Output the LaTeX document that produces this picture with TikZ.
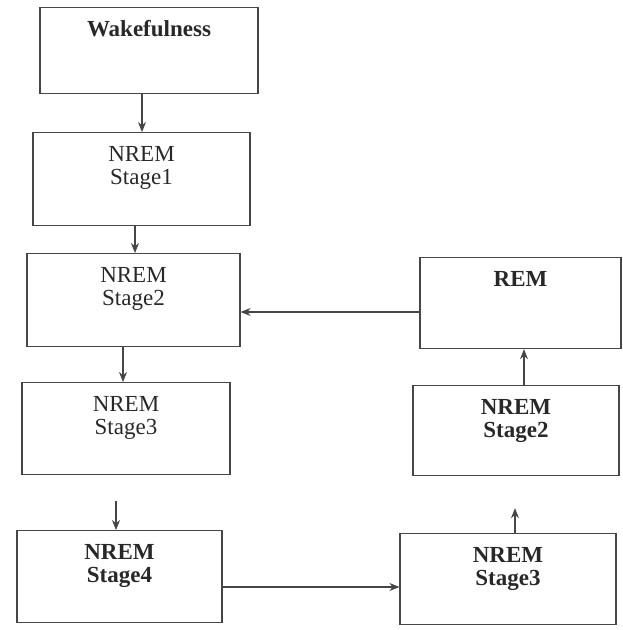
\documentclass[tikz,border=0pt]{standalone}
\usepackage{fontspec}
\setmainfont{Liberation Serif}
\usetikzlibrary{arrows.meta, positioning, calc}
\definecolor{cLine}{RGB}{70,70,70}
\definecolor{cText}{RGB}{40,40,40}
\tikzset{
	stage/.style ={rectangle, draw=cLine, line width=1.2pt, anchor=north, align=center, text=cText,
		font=\fontsize{23}{23}\selectfont\bfseries, text height=16pt, text depth=51pt, inner xsep=0pt, inner ysep=13pt},
	twoline/.style={text height=39pt, text depth=28pt},
	light/.style ={font=\fontsize{23}{23}\selectfont},
	flow/.style  ={-{Stealth[length=10pt, width=8pt]}, draw=cLine, line width=1.1pt},
}
\begin{document}
\begin{tikzpicture}[x=1pt, y=-1pt]
	\useasboundingbox (0,0) rectangle (623,630);
	% left column
	\node[stage, minimum width=218pt, text depth=44pt] (wake) at (149,7) {Wakefulness};
	\node[stage, twoline, light, minimum width=217pt] (l1) at (141.5,132) {NREM\\ Stage1};
	\node[stage, twoline, light, minimum width=213pt] (l2) at (133.5,253) {NREM\\ Stage2};
	\node[stage, twoline, light, minimum width=208pt, text depth=27pt] (l3) at (126,382) {NREM\\ Stage3};
	\node[stage, twoline, minimum width=205pt, text depth=27pt] (l4) at (119.5,530) {NREM\\ Stage4};
	% right column
	\node[stage, minimum width=201pt, text depth=49pt] (rem) at (520.5,257) {REM};
	\node[stage, twoline, minimum width=206pt, text depth=25pt] (r2) at (516,385) {NREM\\ Stage2};
	\node[stage, twoline, minimum width=216pt, text depth=26pt] (r3) at (508,533) {NREM\\ Stage3};
	% connectors
	\draw[flow] ([xshift=-7pt]wake.south) -- ([xshift=-7pt]wake.south |- l1.north);
	\draw[flow] ([xshift=-6.5pt]l1.south) -- ([xshift=-6.5pt]l1.south |- l2.north);
	\draw[flow] ([xshift=-10.5pt]l2.south) -- ([xshift=-10.5pt]l2.south |- l3.north);
	\draw[flow, shorten <=26pt] ([xshift=-10pt]l3.south) -- ([xshift=-10pt]l3.south |- l4.north);
	\draw[flow] (l4.east |- 0,587) -- (r3.west |- 0,587);
	\draw[flow, shorten >=32pt] ([xshift=7pt]r3.north) -- ([xshift=7pt]r3.north |- r2.south);
	\draw[flow] ([xshift=8pt]r2.north) -- ([xshift=8pt]r2.north |- rem.south);
	\draw[flow] (rem.west |- 0,312) -- (l2.east |- 0,312);
\end{tikzpicture}
\end{document}
